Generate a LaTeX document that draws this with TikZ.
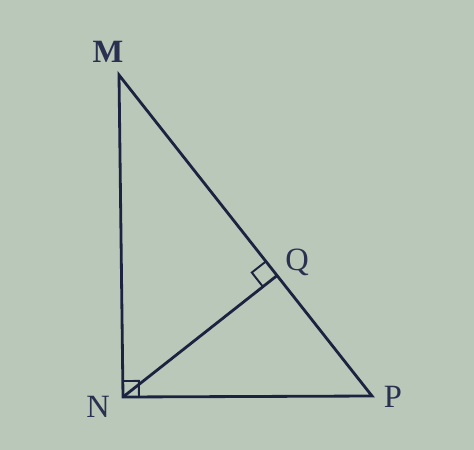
\documentclass[tikz,border=0pt]{standalone}
\usepackage{fontspec}
\setmainfont{Liberation Serif}
\usetikzlibrary{calc}
\definecolor{bg}{HTML}{B9C8B9}
\definecolor{ink}{HTML}{1C2340}
\definecolor{txt}{HTML}{2A3050}
\begin{document}
\begin{tikzpicture}[x=0.02cm,y=-0.02cm,
  edge/.style={draw=ink,line width=1.6pt,line join=miter},
  ramark/.style={draw=ink,line width=1.1pt},
  lbl/.style={text=txt,font=\fontsize{18.5}{22}\selectfont,inner sep=0pt}]
\fill[bg] (0,0) rectangle (474,450);
\useasboundingbox (0,0) rectangle (474,450);
\coordinate (M) at (119,75);
\coordinate (N) at (123,397);
\coordinate (P) at (372,396);
\coordinate (Q) at ($(M)!(N)!(P)$);
\draw[edge] (M) -- (N) -- (P) -- cycle;
\draw[edge] (N) -- (Q);
% right angle at N
\coordinate (n1) at ($(N)!0.32cm!(M)$);
\coordinate (n2) at ($(N)!0.32cm!(P)$);
\draw[ramark] (n1) -- ($(n1)+(n2)-(N)$) -- (n2);
% right angle at Q
\coordinate (q1) at ($(Q)!0.36cm!(M)$);
\coordinate (q2) at ($(Q)!0.36cm!(N)$);
\draw[ramark] (q1) -- ($(q1)+(q2)-(Q)$) -- (q2);
\node[lbl,font=\fontsize{18.5}{22}\selectfont\bfseries] (lM) at (108,52) {M};
\node[lbl] (lN) at (98,407) {N};
\node[lbl] (lP) at (393,397) {P};
\node[lbl] (lQ) at (297,262) {Q};
\end{tikzpicture}
\end{document}
